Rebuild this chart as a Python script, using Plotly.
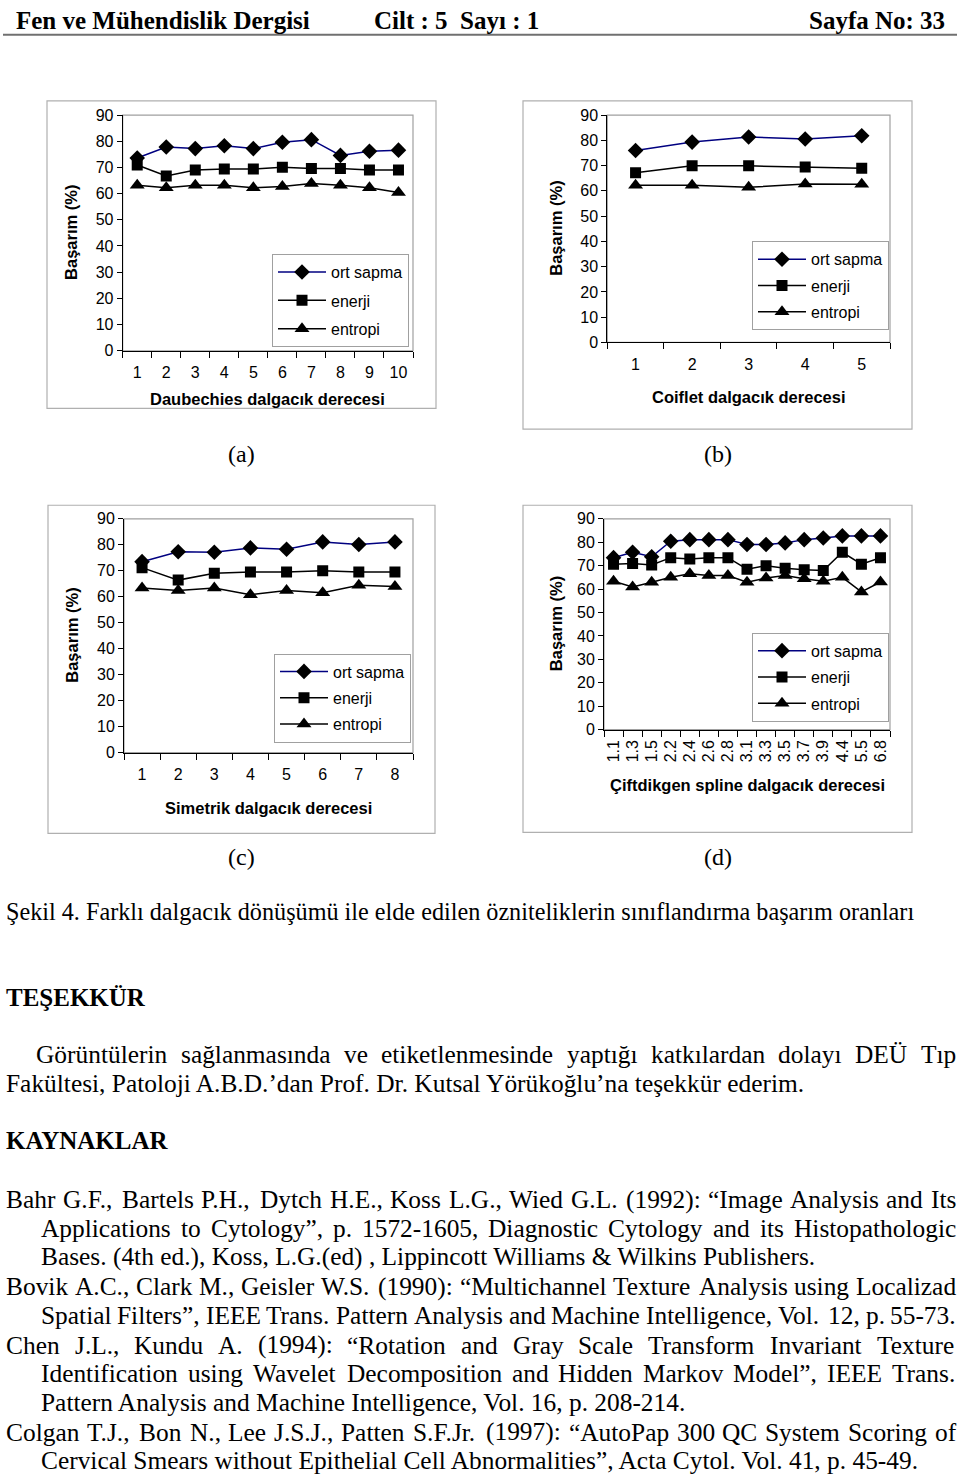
import plotly.graph_objects as go

W, H = 960, 1484
def px(x): return x / W
def py(y): return 1 - y / H

SANS = "Liberation Sans, Arial, sans-serif"
SERIF = "Liberation Serif, Times New Roman, serif"

series_names = ["ort sapma", "enerji", "entropi"]

# (a) Daubechies
cat_a = ["1", "2", "3", "4", "5", "6", "7", "8", "9", "10"]
ort_a = [73.6, 77.8, 77.2, 78.3, 77.2, 79.6, 80.6, 74.6, 76.2, 76.6]
ene_a = [70.9, 66.7, 69.0, 69.4, 69.4, 70.1, 69.6, 69.6, 69.0, 69.0]
ent_a = [63.2, 62.2, 63.2, 63.2, 62.2, 62.7, 63.9, 63.2, 62.2, 60.4]

# (b) Coiflet
cat_b = ["1", "2", "3", "4", "5"]
ort_b = [76.0, 79.3, 81.3, 80.5, 81.8]
ene_b = [67.2, 69.9, 69.9, 69.4, 68.9]
ent_b = [62.2, 62.2, 61.4, 62.7, 62.6]

# (c) Simetrik
cat_c = ["1", "2", "3", "4", "5", "6", "7", "8"]
ort_c = [73.5, 77.3, 77.1, 78.8, 78.3, 81.1, 80.1, 81.1]
ene_c = [71.2, 66.4, 69.0, 69.5, 69.5, 70.0, 69.5, 69.5]
ent_c = [63.4, 62.4, 63.4, 60.8, 62.4, 61.5, 64.4, 63.9]

# (d) Çiftdikgen spline
cat_d = ["1.1", "1.3", "1.5", "2.2", "2.4", "2.6", "2.8", "3.1", "3.3", "3.5", "3.7", "3.9", "4.4", "5.5", "6.8"]
ort_d = [73.4, 75.7, 73.8, 80.4, 81.1, 81.1, 81.1, 79.0, 79.0, 79.7, 81.1, 81.8, 82.7, 82.7, 82.7]
ene_d = [70.6, 70.9, 70.3, 73.4, 72.8, 73.4, 73.4, 68.5, 70.0, 68.9, 68.2, 67.9, 75.7, 70.6, 73.4]
ent_d = [63.3, 60.9, 62.9, 65.0, 66.5, 65.8, 65.8, 62.9, 64.7, 65.8, 64.4, 63.3, 65.0, 58.8, 63.0]

y_ticks = [0, 10, 20, 30, 40, 50, 60, 70, 80, 90]

panels = [
    dict(cats=cat_a, vals=[ort_a, ene_a, ent_a], xt="Daubechies dalgacık derecesi", lab="(a)",
         plot=(122.7, 413, 108.3, 346.7), box=(47, 436, 94, 405), leg=(272, 249), gap=4.5,
         xtitle_y=396, ytitle_x=71, lab_xy=(241, 451), angle=0),
    dict(cats=cat_b, vals=[ort_b, ene_b, ent_b], xt="Coiflet dalgacık derecesi", lab="(b)",
         plot=(607.3, 890, 108.3, 338.3), box=(523, 912, 94, 426), leg=(752, 236), gap=2.5,
         xtitle_y=394, ytitle_x=556, lab_xy=(718, 451), angle=0),
    dict(cats=cat_c, vals=[ort_c, ene_c, ent_c], xt="Simetrik dalgacık derecesi", lab="(c)",
         plot=(124, 413, 516.7, 753.3), box=(48, 435, 503, 835), leg=(274, 653), gap=2.5,
         xtitle_y=809, ytitle_x=72, lab_xy=(241, 859), angle=0),
    dict(cats=cat_d, vals=[ort_d, ene_d, ent_d], xt="Çiftdikgen spline dalgacık derecesi", lab="(d)",
         plot=(604, 890, 516.7, 730), box=(523, 912, 503, 834), leg=(752, 632), gap=2.5,
         xtitle_y=786, ytitle_x=556, lab_xy=(718, 859), angle=-90),
]

symbols = ["diamond", "square", "triangle-up"]
msizes = [12, 11, 13]
lcolors = ["#000080", "#000000", "#000000"]

fig = go.Figure()
shapes = []
annotations = []
layout = {}

for i, p in enumerate(panels):
    k = "" if i == 0 else str(i + 1)
    xa, ya = "x" + k, "y" + k
    legname = "legend" + k
    for j in range(3):
        fig.add_trace(go.Scatter(
            x=p["cats"], y=p["vals"][j], name=series_names[j], mode="lines+markers",
            xaxis=xa, yaxis=ya, legend=legname, legendgroup=f"{i}-{j}",
            line=dict(color=lcolors[j], width=1.5),
            marker=dict(symbol=symbols[j], size=msizes[j], color="#000000"),
        ))
    x0, x1, y0, y1 = p["plot"]
    layout["xaxis" + k] = dict(
        domain=[px(x0), px(x1)], anchor=ya, type="category", tickson="boundaries",
        ticks="outside", ticklen=6, tickcolor="#000", showline=True, linecolor="#000", linewidth=1,
        showgrid=False, zeroline=False, tickangle=p["angle"],
        tickfont=dict(family=SANS, size=16, color="#000"),
        ticklabelstandoff=(7 if p["angle"] == 0 else 3),
        range=[-0.5, len(p["cats"]) - 0.5], fixedrange=True,
    )
    layout["yaxis" + k] = dict(
        domain=[py(y1), py(y0)], anchor=xa, range=[0, 90], tickvals=y_ticks,
        ticks="outside", ticklen=5, tickcolor="#000", showline=True, linecolor="#000", linewidth=1,
        showgrid=False, zeroline=False, tickfont=dict(family=SANS, size=16, color="#000"),
    )
    lx, ly = p["leg"]
    layout[legname] = dict(
        x=px(lx), y=py(ly), xanchor="left", yanchor="top", bgcolor="#ffffff",
        bordercolor="#a0a0a0", borderwidth=1, font=dict(family=SANS, size=16, color="#000"),
        tracegroupgap=p["gap"], itemwidth=48, traceorder="grouped",
    )
    shapes.append(dict(type="rect", xref="paper", yref="paper", x0=px(x0), x1=px(x1),
                       y0=py(y1), y1=py(y0), line=dict(color="#a0a0a0", width=1.2), layer="below"))
    bx0, bx1, by0, by1 = p["box"]
    shapes.append(dict(type="rect", xref="paper", yref="paper", x0=px(bx0), x1=px(bx1),
                       y0=py(by1), y1=py(by0), line=dict(color="#b0b0b0", width=1.2), layer="below"))
    annotations.append(dict(text="<b>" + p["xt"] + "</b>", x=px((x0 + x1) / 2), y=py(p["xtitle_y"]),
                            xref="paper", yref="paper", showarrow=False, xanchor="center", yanchor="middle",
                            font=dict(family=SANS, size=16.5, color="#000")))
    annotations.append(dict(text="<b>Başarım (%)</b>", x=px(p["ytitle_x"]), y=py((y0 + y1) / 2),
                            xref="paper", yref="paper", showarrow=False, textangle=-90,
                            xanchor="center", yanchor="middle", font=dict(family=SANS, size=16.5, color="#000")))
    lxp, lyp = p["lab_xy"]
    annotations.append(dict(text=p["lab"], x=px(lxp), y=py(lyp), xref="paper", yref="paper",
                            showarrow=False, xanchor="center", yanchor="middle",
                            font=dict(family=SERIF, size=24, color="#000")))

def txt(t, x, y, size, anchor="left", bold=False):
    annotations.append(dict(text=("<b>" + t + "</b>") if bold else t, x=px(x), y=py(y),
                            xref="paper", yref="paper", showarrow=False, xanchor=anchor, yanchor="middle",
                            borderpad=0, font=dict(family=SERIF, size=size, color="#000")))

# Times-Roman advance widths (1/1000 em) for justification
TW = {' ': 250, '!': 333, '"': 408, '#': 500, '$': 500, '%': 833, '&': 778, "'": 180, '(': 333, ')': 333,
      '*': 500, '+': 564, ',': 250, '-': 333, '.': 250, '/': 278, ':': 278, ';': 278, '?': 444, '@': 921,
      'A': 722, 'B': 667, 'C': 667, 'D': 722, 'E': 611, 'F': 556, 'G': 722, 'H': 722, 'I': 333, 'J': 389,
      'K': 722, 'L': 611, 'M': 889, 'N': 722, 'O': 722, 'P': 556, 'Q': 722, 'R': 667, 'S': 556, 'T': 611,
      'U': 722, 'V': 722, 'W': 944, 'X': 722, 'Y': 722, 'Z': 611, 'a': 444, 'b': 500, 'c': 444, 'd': 500,
      'e': 444, 'f': 333, 'g': 500, 'h': 500, 'i': 278, 'j': 278, 'k': 500, 'l': 278, 'm': 778, 'n': 500,
      'o': 500, 'p': 500, 'q': 500, 'r': 333, 's': 389, 't': 278, 'u': 500, 'v': 500, 'w': 722, 'x': 500,
      'y': 500, 'z': 444, 'ö': 500, 'ü': 500, 'ş': 389, 'ğ': 500, 'ı': 278, 'Ü': 722, 'Ş': 556, 'Ç': 667,
      'ç': 444, 'Ö': 722, '“': 444, '”': 444, '’': 333}
for d in "0123456789":
    TW[d] = 500

def wwidth(w, size):
    return sum(TW.get(c, 500) for c in w) * size / 1000.0

def justified(t, x_left, x_right, y, size):
    words = t.split(" ")
    widths = [wwidth(w, size) for w in words]
    gap = (x_right - x_left - sum(widths)) / (len(words) - 1)
    x = x_left
    for w, wd in zip(words, widths):
        txt(w, x, y, size)
        x += wd + gap

BODY = 25.4
txt("Fen ve Mühendislik Dergisi", 15, 13, 25, bold=True)
txt("Cilt : 5\u00a0\u00a0Sayı : 1", 373, 13, 25, bold=True)
txt("Sayfa No: 33", 946, 13, 25, anchor="right", bold=True)
shapes.append(dict(type="line", xref="paper", yref="paper", x0=px(3), x1=px(957), y0=py(27), y1=py(27),
                   line=dict(color="#707070", width=2)))

txt("Şekil 4. Farklı dalgacık dönüşümü ile elde edilen özniteliklerin sınıflandırma başarım oranları", 5, 914, 24.2)
txt("TEŞEKKÜR", 5, 1001, 25, bold=True)
justified("Görüntülerin sağlanmasında ve etiketlenmesinde yaptığı katkılardan dolayı DEÜ Tıp", 35, 955, 1058, BODY)
txt("Fakültesi, Patoloji A.B.D.’dan Prof. Dr. Kutsal Yörükoğlu’na teşekkür ederim.", 5, 1087, BODY)
txt("KAYNAKLAR", 5, 1146, 25, bold=True)

# (text, x_left, y, justified?)
refs = [
    ("Bahr G.F., Bartels P.H., Dytch H.E., Koss L.G., Wied G.L. (1992): “Image Analysis and Its", 5, 1205, True),
    ("Applications to Cytology”, p. 1572-1605, Diagnostic Cytology and its Histopathologic", 40, 1234, True),
    ("Bases. (4th ed.), Koss, L.G.(ed) , Lippincott Williams & Wilkins Publishers.", 40, 1263, False),
    ("Bovik A.C., Clark M., Geisler W.S. (1990): “Multichannel Texture Analysis using Localizad", 5, 1293, True),
    ("Spatial Filters”, IEEE Trans. Pattern Analysis and Machine Intelligence, Vol. 12, p. 55-73.", 40, 1322, True),
    ("Chen J.L., Kundu A. (1994): “Rotation and Gray Scale Transform Invariant Texture", 5, 1352, True),
    ("Identification using Wavelet Decomposition and Hidden Markov Model”, IEEE Trans.", 40, 1381, True),
    ("Pattern Analysis and Machine Intelligence, Vol. 16, p. 208-214.", 40, 1410, False),
    ("Colgan T.J., Bon N., Lee J.S.J., Patten S.F.Jr. (1997): “AutoPap 300 QC System Scoring of", 5, 1440, True),
    ("Cervical Smears without Epithelial Cell Abnormalities”, Acta Cytol. Vol. 41, p. 45-49.", 40, 1469, False),
]
for t, x, y, j in refs:
    if j:
        justified(t, x, 955, y, BODY)
    else:
        txt(t, x, y, BODY)

fig.update_layout(
    width=W, height=H, margin=dict(l=0, r=0, t=0, b=0),
    paper_bgcolor="#ffffff", plot_bgcolor="#ffffff",
    shapes=shapes, annotations=annotations, **layout,
)

fig.write_html("out.html")
